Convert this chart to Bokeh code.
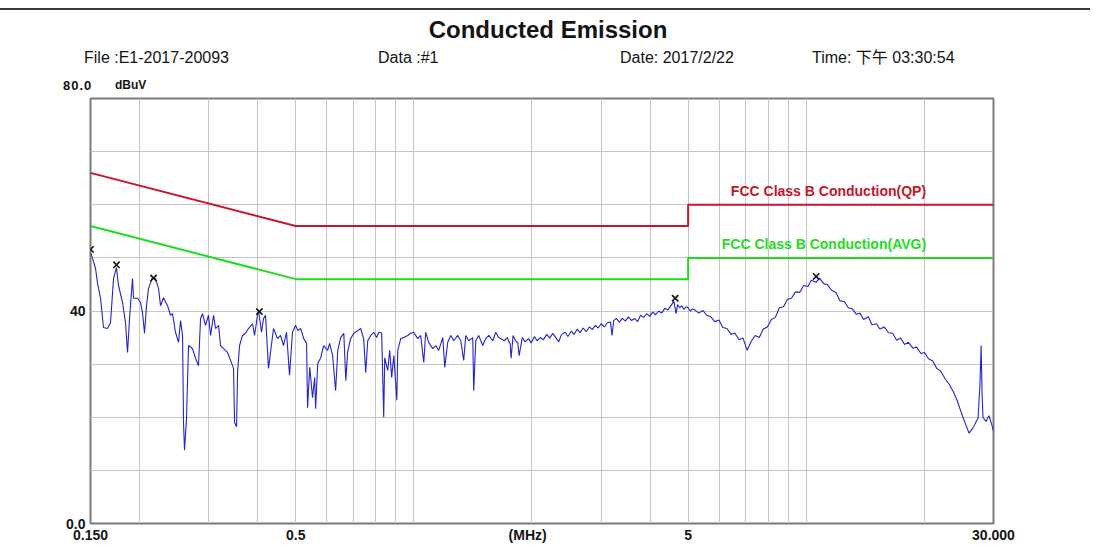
from bokeh.plotting import figure
from bokeh.layouts import column
from bokeh.models import FixedTicker, Label, Div
from bokeh.embed import file_html
from bokeh.resources import INLINE

# ---------------- data ----------------
freq_mhz = [
    0.150, 0.1518, 0.1545, 0.1563, 0.1591, 0.1619, 0.1657, 0.1687, 0.1717, 0.1747,
    0.1768, 0.1810, 0.1842, 0.1864, 0.1886, 0.1919, 0.1931, 0.1976, 0.2012, 0.2035,
    0.2059, 0.2084, 0.2108, 0.2158, 0.2197, 0.2236, 0.2262, 0.2302, 0.2357, 0.2399,
    0.2427, 0.2470, 0.2514, 0.2544, 0.2574, 0.2589, 0.2604, 0.2635, 0.2666, 0.2730,
    0.2778, 0.2827, 0.2861, 0.2894, 0.2946, 0.2998, 0.3034, 0.3088, 0.3124, 0.3180,
    0.3217, 0.3274, 0.3352, 0.3412, 0.3472, 0.3493, 0.3534, 0.3555, 0.3597, 0.3661,
    0.3725, 0.3791, 0.3881, 0.3927, 0.3996, 0.4020, 0.4091, 0.4140, 0.4188, 0.4263,
    0.4313, 0.4390, 0.4494, 0.4574, 0.4655, 0.4738, 0.4822, 0.4907, 0.500, 0.506,
    0.515, 0.524, 0.533, 0.536, 0.543, 0.552, 0.559, 0.562, 0.569, 0.579,
    0.589, 0.603, 0.610, 0.621, 0.632, 0.640, 0.651, 0.663, 0.671, 0.678,
    0.690, 0.703, 0.719, 0.732, 0.745, 0.754, 0.763, 0.777, 0.790, 0.804,
    0.814, 0.828, 0.838, 0.843, 0.858, 0.868, 0.878, 0.889, 0.905, 0.910,
    0.926, 0.942, 0.965, 0.982, 0.999, 1.023, 1.041, 1.060, 1.072, 1.091,
    1.117, 1.137, 1.157, 1.185, 1.199, 1.220, 1.242, 1.264, 1.294, 1.317,
    1.340, 1.356, 1.380, 1.413, 1.421, 1.438, 1.463, 1.498, 1.525, 1.552,
    1.589, 1.617, 1.645,
    1.70, 1.73, 1.76, 1.77, 1.79, 1.82, 1.84, 1.855, 1.89, 1.92,
    1.96, 1.99, 2.03, 2.06, 2.10, 2.14, 2.18, 2.22, 2.26, 2.30,
    2.34, 2.38, 2.43, 2.47, 2.52, 2.56, 2.61, 2.65, 2.70, 2.75,
    2.80, 2.85, 2.90, 2.95, 3.00, 3.06, 3.11, 3.17, 3.20, 3.23,
    3.28, 3.34, 3.40, 3.46, 3.52, 3.59, 3.65, 3.72, 3.78, 3.85,
    3.92, 3.99, 4.06, 4.13, 4.21, 4.28, 4.36, 4.44, 4.52, 4.60,
    4.66, 4.70, 4.76, 4.82, 4.88, 4.94, 5.00, 5.06, 5.13,
    5.20, 5.32, 5.45, 5.58, 5.71, 5.85, 5.99, 6.13, 6.28, 6.43,
    6.58, 6.74, 6.90, 7.07, 7.24, 7.41, 7.59, 7.77, 7.96, 8.15,
    8.34, 8.54, 8.75, 8.96, 9.17, 9.39, 9.62, 9.85, 10.1, 10.3,
    10.6, 10.8, 11.1, 11.3, 11.6, 11.9, 12.2, 12.5, 12.8, 13.1,
    13.4, 13.7, 14.0, 14.4, 14.7, 15.1, 15.4, 15.8, 16.2, 16.6,
    17.0, 17.4, 17.8, 18.2, 18.7, 19.1, 19.6, 20.0, 20.5, 21.0,
    21.5, 22.0, 22.6, 23.1, 23.7, 24.2, 24.8, 25.4, 26.0, 26.6,
    27.1, 27.4, 27.7, 27.9, 28.05, 28.2, 28.7, 29.2, 29.7, 30.0,
]
level_dbuv = [
    51.0, 49.9, 48.0, 45.2, 42.4, 36.9, 36.7, 37.8, 46.1, 48.2,
    44.8, 41.6, 37.8, 32.2, 38.6, 46.1, 42.4, 42.4, 41.6, 39.7,
    35.8, 41.0, 44.2, 46.3, 46.1, 44.2, 41.0, 42.5, 41.0, 39.2,
    39.5, 36.0, 34.1, 38.2, 35.4, 19.0, 13.8, 19.8, 33.5, 32.9,
    31.1, 29.7, 38.6, 39.5, 37.3, 39.2, 35.4, 39.2, 36.7, 37.3,
    33.5, 32.9, 32.2, 30.7, 29.2, 19.0, 18.2, 28.4, 33.5, 35.4,
    35.8, 36.7, 37.6, 35.4, 39.2, 40.1, 36.0, 38.6, 39.2, 29.2,
    32.2, 36.7, 34.8, 35.4, 33.5, 36.0, 27.9, 36.0, 37.3, 36.3,
    36.7, 34.8, 33.9, 21.8, 29.4, 23.7, 27.5, 21.6, 30.1, 31.2,
    33.5, 32.6, 33.9, 31.6, 25.0, 32.6, 35.0, 35.8, 26.9, 32.2,
    34.8, 35.8, 36.3, 36.7, 34.8, 28.4, 34.4, 35.4, 36.0, 35.0,
    36.0, 35.8, 20.0, 31.2, 28.8, 32.6, 27.5, 31.6, 23.2, 32.6,
    34.8, 35.0, 35.4, 35.8, 36.0, 34.8, 35.4, 30.3, 36.0, 34.1,
    32.9, 33.5, 32.6, 35.0, 29.4, 34.1, 35.4, 34.4, 35.4, 34.4,
    30.7, 35.4, 34.4, 35.0, 25.0, 34.4, 35.4, 33.5, 34.8, 35.4,
    34.4, 36.0, 35.0,
    34.4, 35.0, 33.8, 31.1, 35.4, 34.3, 34.1, 31.6, 35.0, 34.2,
    34.8, 34.0, 35.2, 34.4, 35.0, 34.6, 35.6, 34.9, 35.8, 35.0,
    34.2, 35.6, 36.0, 35.2, 36.2, 35.6, 36.6, 35.9, 36.8, 36.1,
    37.0, 36.5, 37.3, 36.8, 37.6, 37.0, 37.8, 37.9, 35.4, 38.2,
    38.6, 37.9, 38.6, 38.1, 38.9, 38.2, 38.6, 38.0, 39.2, 38.8,
    39.5, 39.0, 39.8, 39.3, 40.0, 39.6, 40.5, 40.2, 41.0, 41.8,
    39.5, 41.2, 40.6, 41.0, 40.3, 40.8, 40.6, 40.0, 40.4,
    40.2, 39.6, 40.1, 39.2, 38.9, 38.0, 38.3, 36.9, 36.7, 35.6,
    35.8, 34.6, 34.9, 32.6, 34.3, 35.4, 35.0, 36.6, 37.0, 38.4,
    38.8, 40.6, 40.8, 42.2, 42.4, 43.6, 43.5, 44.8, 44.6, 45.8,
    45.4, 46.2, 45.1, 45.0, 43.9, 43.5, 41.9, 41.8, 40.6, 40.4,
    39.4, 39.6, 38.4, 38.9, 37.4, 37.6, 36.6, 37.0, 35.9, 35.8,
    34.5, 34.9, 33.7, 34.1, 33.0, 33.2, 32.0, 32.2, 31.0, 30.6,
    29.2, 28.7, 27.2, 26.3, 24.8, 23.3, 21.0, 18.9, 17.0, 18.0,
    19.2, 19.8, 26.0, 33.5, 24.7, 20.0, 19.2, 20.3, 18.6, 17.4,
]
peak_freq = [0.150, 0.1747, 0.2171, 0.4040, 4.633, 10.60]
peak_level = [51.6, 48.7, 46.2, 39.9, 42.4, 46.5]

qp_freq = [0.15, 0.5, 5.0, 5.0, 30.0]
qp_limit = [66, 56, 56, 60, 60]
avg_freq = [0.15, 0.5, 5.0, 5.0, 30.0]
avg_limit = [56, 46, 46, 50, 50]

x_tick_values = [0.15, 0.5, 1.95, 5, 30]
x_tick_labels = ["0.150", "0.5", "(MHz)", "5", "30.000"]
y_tick_values = [0, 40]
y_tick_labels = ["0.0", "40"]
x_grid_values = [0.2, 0.3, 0.4, 0.5, 0.6, 0.7, 0.8, 0.9, 1, 2, 3, 4, 5, 6, 7, 8, 9, 10, 20]
y_grid_values = [10, 20, 30, 40, 50, 60, 70]

title_text = "Conducted Emission"
header_texts = ["File :E1-2017-20093", "Data :#1", "Date: 2017/2/22", "Time: 下午 03:30:54"]
unit_texts = ["80.0", "dBuV"]
qp_label = "FCC Class B Conduction(QP)"
avg_label = "FCC Class B Conduction(AVG)"

FONT = "'Liberation Sans', Arial, 'Noto Sans CJK TC', sans-serif"
INK = "#141414"

# ---------------- header (HTML text above the chart) ----------------
HEAD_H = 93
def span(left, top, txt, size, weight="normal", extra=""):
    return (f'<div style="position:absolute;left:{left}px;top:{top}px;white-space:nowrap;'
            f'font-family:{FONT};font-size:{size}px;line-height:{size + 3}px;'
            f'font-weight:{weight};color:{INK};{extra}">{txt}</div>')

parts = [
    '<div style="position:absolute;left:0px;top:8px;width:1090px;height:0px;'
    'border-top:2px solid #3a3a3a;"></div>',
    span(0, 16, title_text, 24, "bold", "width:1096px;text-align:center;"),
]
for hx, ht in zip([84, 378, 620, 812], header_texts):
    parts.append(span(hx, 48, ht, 16))
parts.append(span(63, 78, unit_texts[0], 13, "bold", "letter-spacing:1px;"))
parts.append(span(115, 78, unit_texts[1], 12, "bold"))
head_html = (f'<div style="position:relative;width:1096px;height:{HEAD_H}px;margin:0;padding:0;">'
             + "".join(parts) + "</div>")
head = Div(text=head_html, width=1096, height=HEAD_H, margin=(0, 0, 0, 0))

# ---------------- main chart ----------------
p = figure(width=1096, height=455, x_axis_type="log", x_range=(0.15, 30), y_range=(0, 80),
           output_backend="svg", toolbar_location=None, title=None,
           min_border_left=90, min_border_right=103, min_border_top=5, min_border_bottom=25)
p.background_fill_color = "white"
p.border_fill_color = "white"
p.outline_line_color = "#7a7a7a"
p.outline_line_width = 2

p.xaxis.ticker = FixedTicker(ticks=x_tick_values)
p.xaxis.major_label_overrides = dict(zip(x_tick_values, x_tick_labels))
p.yaxis.ticker = FixedTicker(ticks=y_tick_values)
p.yaxis.major_label_overrides = dict(zip(y_tick_values, y_tick_labels))
for ax in (p.xaxis, p.yaxis):
    ax.axis_line_color = None
    ax.major_tick_line_color = None
    ax.minor_tick_line_color = None
    ax.major_tick_out = 0
    ax.major_tick_in = 0
    ax.minor_tick_out = 0
    ax.major_label_text_font = FONT
    ax.major_label_text_font_style = "bold"
    ax.major_label_text_font_size = "14px"
    ax.major_label_text_color = INK
p.xaxis.major_label_standoff = 3
p.yaxis.major_label_standoff = 5

p.xgrid.ticker = FixedTicker(ticks=x_grid_values)
p.ygrid.ticker = FixedTicker(ticks=y_grid_values)
for g in (p.xgrid, p.ygrid):
    g.grid_line_color = "#c6c6c6"
    g.grid_line_width = 1

p.line(qp_freq, qp_limit, line_color="#c4152b", line_width=2)
p.line(avg_freq, avg_limit, line_color="#1fdc1f", line_width=2)
p.line(freq_mhz, level_dbuv, line_color="#2424c8", line_width=1.1)
p.scatter(peak_freq, peak_level, marker="x", size=9, line_color=INK, line_width=1.6)

p.add_layout(Label(x=20.2, y=62.5, text=qp_label, text_align="right", text_baseline="middle",
                   text_font=FONT, text_font_style="bold", text_font_size="14px",
                   text_color="#c4152b"))
p.add_layout(Label(x=20.2, y=52.7, text=avg_label, text_align="right", text_baseline="middle",
                   text_font=FONT, text_font_style="bold", text_font_size="14px",
                   text_color="#1fdc1f"))

open("out.html", "w").write(file_html(column(head, p, spacing=0), INLINE))
